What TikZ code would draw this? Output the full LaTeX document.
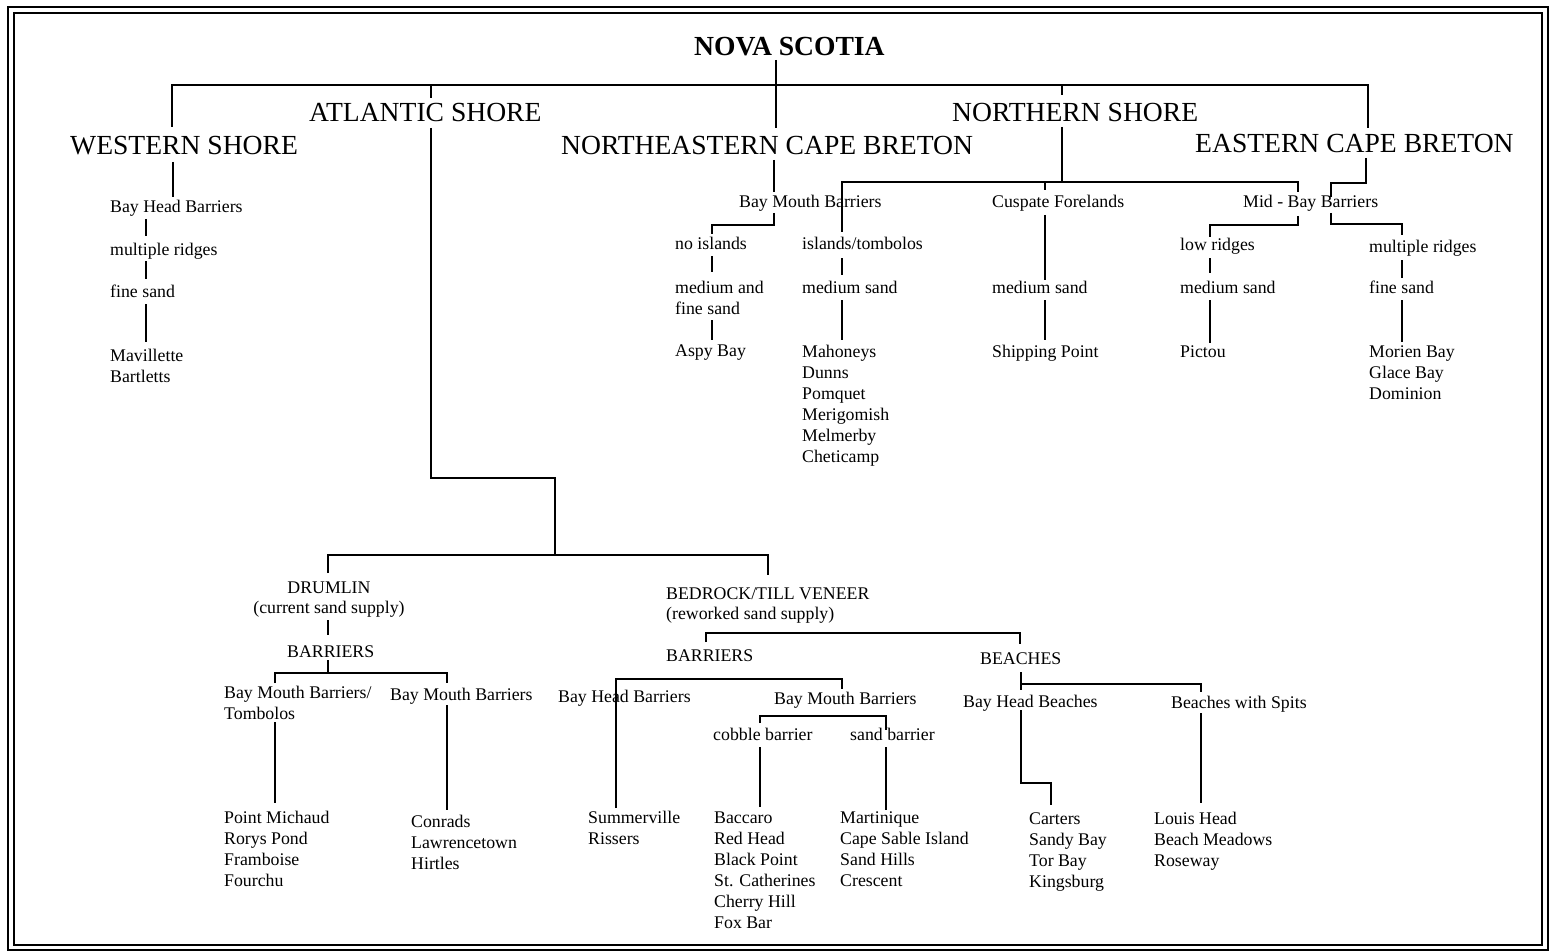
\documentclass[tikz,border=0pt]{standalone}
\usepackage{fontspec}
\setmainfont{Liberation Serif}
\newcommand{\lst}[1]{\begin{tabular}[t]{@{}l@{}}#1\end{tabular}}
\newcommand{\clst}[1]{\begin{tabular}[t]{@{}c@{}}#1\end{tabular}}
\begin{document}
\begin{tikzpicture}[x=1pt,y=-1pt,
  big/.style={anchor=base west, inner sep=0pt, font=\fontsize{27.6}{32}\selectfont},
  top/.style={anchor=base west, inner sep=0pt, font=\fontsize{27.6}{32}\selectfont\bfseries},
  sm/.style={anchor=base west, inner sep=0pt, font=\fontsize{17.8}{21}\selectfont},
  smtight/.style={sm, font=\fontsize{17.8}{20}\selectfont},
  conn/.style={line width=1.8pt, line join=miter},
  frameo/.style={line width=2.4pt},
  framei/.style={line width=1.5pt}]
\useasboundingbox (0,0) rectangle (1550,952);
\fill[white] (0,0) rectangle (1550,952);
% frame
\draw[frameo] (8,7) rectangle (1548,950);
\draw[framei] (14,13) rectangle (1542,945);

% ---------------- top level ----------------
\node[top] (ns) at (694,56) {NOVA SCOTIA};
\node[big] (ws) at (70,155) {WESTERN SHORE};
\node[big] (as) at (309,122) {ATLANTIC SHORE};
\node[big] (necb) at (561,155) {NORTHEASTERN CAPE BRETON};
\node[big] (nsh) at (952,122) {NORTHERN SHORE};
\node[big] (ecb) at (1195,153) {EASTERN CAPE BRETON};

\coordinate (barL) at (172,85);
\coordinate (barR) at (1368,85);
\draw[conn] (776,60) -- (776,128);
\draw[conn] (172,127) -- (barL) -- (barR) -- (1368,128);
\draw[conn] (431,85) -- (431,98);
\draw[conn] (1062,85) -- (1062,95);

% ---------------- western shore ----------------
\node[sm] (w1) at (110,213) {Bay Head Barriers};
\node[sm] (w2) at (110,255) {multiple ridges};
\node[sm] (w3) at (110,297) {fine sand};
\node[sm] (w4) at (110,361) {\lst{Mavillette\\Bartletts}};
\draw[conn] (173,162) -- (173,197);
\draw[conn] (146,219) -- (146,236);
\draw[conn] (146,261) -- (146,279);
\draw[conn] (146,304) -- (146,342);

% ---------------- northeastern cape breton ----------------
\node[sm] (n1) at (739,208) {Bay Mouth Barriers};
\node[sm] (n2) at (675,250) {no islands};
\node[sm] (n3) at (675,293) {\lst{medium and\\fine sand}};
\node[sm] (n4) at (675,356) {Aspy Bay};
\draw[conn] (774,160) -- (774,192);
\draw[conn] (774,213) -- (774,225) -- (712,225) -- (712,234);
\draw[conn] (712,256) -- (712,272);
\draw[conn] (712,320) -- (712,340);

% ---------------- northern shore ----------------
\draw[conn] (1062,127) -- (1062,182);
\draw[conn] (842,232) -- (842,182) -- (1298,182) -- (1298,192);
\node[sm] (n5) at (802,250) {islands/tombolos};
\node[sm] (n6) at (802,293) {medium sand};
\node[sm] (n7) at (802,357) {\lst{Mahoneys\\Dunns\\Pomquet\\Merigomish\\Melmerby\\Cheticamp}};
\draw[conn] (842,258) -- (842,275);
\draw[conn] (842,300) -- (842,340);

\node[sm] (n8) at (992,208) {Cuspate Forelands};
\node[sm] (n9) at (992,293) {medium sand};
\node[sm] (n10) at (992,357) {Shipping Point};
\draw[conn] (1045,182) -- (1045,190);
\draw[conn] (1045,215) -- (1045,280);
\draw[conn] (1045,300) -- (1045,340);

\node[sm] (n11) at (1243,208) {Mid - Bay Barriers};
\node[sm] (n12) at (1180,251) {low ridges};
\node[sm] (n13) at (1180,293) {medium sand};
\node[sm] (n14) at (1180,357) {Pictou};
\draw[conn] (1298,216) -- (1298,225) -- (1210,225) -- (1210,237);
\draw[conn] (1210,258) -- (1210,273);
\draw[conn] (1210,300) -- (1210,343);

% ---------------- eastern cape breton ----------------
\draw[conn] (1366,158) -- (1366,183) -- (1331,183) -- (1331,197);
\draw[conn] (1331,213) -- (1331,224) -- (1402,224) -- (1402,235);
\node[sm] (n15) at (1369,252) {multiple ridges};
\node[sm] (n16) at (1369,293) {fine sand};
\node[sm] (n17) at (1369,357) {\lst{Morien Bay\\Glace Bay\\Dominion}};
\draw[conn] (1402,260) -- (1402,278);
\draw[conn] (1402,300) -- (1402,342);

% ---------------- atlantic shore ----------------
\draw[conn] (431,128) -- (431,478) -- (555,478) -- (555,555);
\draw[conn] (328,573) -- (328,555) -- (768,555) -- (768,575);

% drumlin
\node[smtight, anchor=base] (d1) at (329,593) {\clst{DRUMLIN\\(current sand supply)}};
\node[sm] (d3) at (287,657) {BARRIERS};
\draw[conn] (328,620) -- (328,635);
\draw[conn] (328,660) -- (328,673);
\draw[conn] (275,683) -- (275,673) -- (447,673) -- (447,683);
\node[sm] (d4) at (224,698) {\lst{Bay Mouth Barriers/\\Tombolos}};
\node[sm] (d5) at (390,700) {Bay Mouth Barriers};
\draw[conn] (275,722) -- (275,803);
\draw[conn] (447,705) -- (447,810);
\node[sm] (d6) at (224,823) {\lst{Point Michaud\\Rorys Pond\\Framboise\\Fourchu}};
\node[sm] (d7) at (411,827) {\lst{Conrads\\Lawrencetown\\Hirtles}};

% bedrock
\node[smtight] (b1) at (666,599) {\lst{BEDROCK/TILL VENEER\\(reworked sand supply)}};
\draw[conn] (706,642) -- (706,633) -- (1020,633) -- (1020,644);
\node[sm] (b2) at (666,661) {BARRIERS};
\node[sm] (b3) at (980,664) {BEACHES};

\draw[conn] (616,808) -- (616,679) -- (842,679) -- (842,689);
\node[sm] (b4) at (558,702) {Bay Head Barriers};
\node[sm] (b5) at (774,704) {Bay Mouth Barriers};
\draw[conn] (760,723) -- (760,716) -- (886,716) -- (886,730);
\node[sm] (b6) at (713,740) {cobble barrier};
\node[sm] (b7) at (850,740) {sand barrier};
\draw[conn] (760,747) -- (760,807);
\draw[conn] (886,747) -- (886,810);
\node[sm] (b8) at (588,823) {\lst{Summerville\\Rissers}};
\node[sm] (b9) at (714,823) {\lst{Baccaro\\Red Head\\Black Point\\St. Catherines\\Cherry Hill\\Fox Bar}};
\node[sm] (b10) at (840,823) {\lst{Martinique\\Cape Sable Island\\Sand Hills\\Crescent}};

% beaches
\draw[conn] (1021,672) -- (1021,690);
\draw[conn] (1021,684) -- (1201,684) -- (1201,692);
\node[sm] (b11) at (963,707) {Bay Head Beaches};
\node[sm] (b12) at (1171,708) {Beaches with Spits};
\draw[conn] (1021,710) -- (1021,783) -- (1051,783) -- (1051,805);
\draw[conn] (1201,713) -- (1201,803);
\node[sm] (b13) at (1029,824) {\lst{Carters\\Sandy Bay\\Tor Bay\\Kingsburg}};
\node[sm] (b14) at (1154,824) {\lst{Louis Head\\Beach Meadows\\Roseway}};
\end{tikzpicture}
\end{document}
